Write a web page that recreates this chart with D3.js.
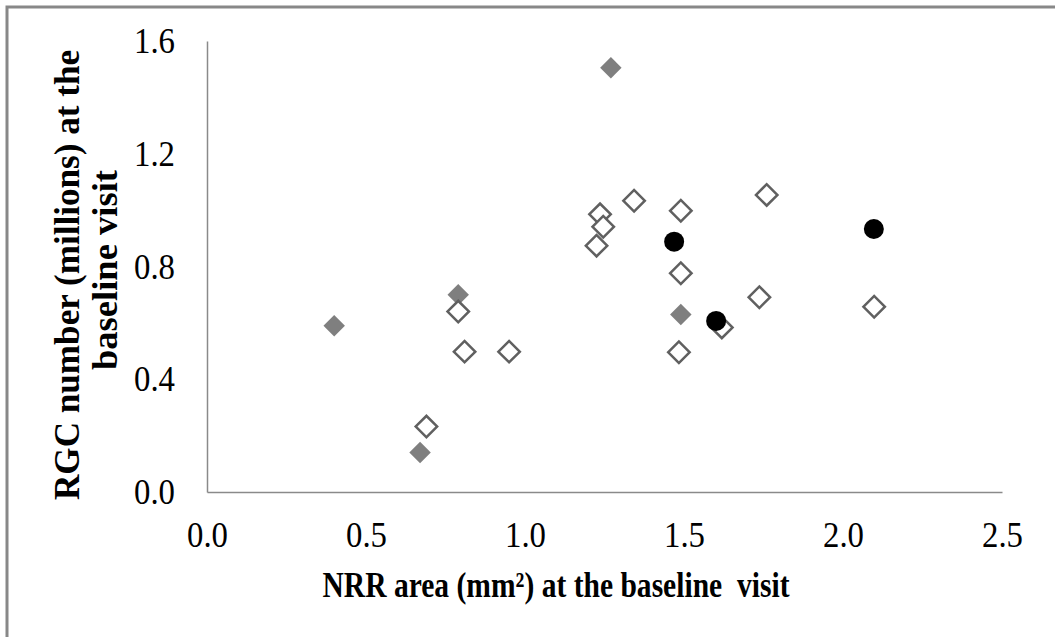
<!DOCTYPE html>
<html>
<head>
<meta charset="utf-8">
<script src="https://cdn.jsdelivr.net/npm/d3@7"></script>
<style>
  body { margin: 0; background: #fff; }
  svg { display: block; }
</style>
</head>
<body>
<svg></svg>
<script>
// filled grey diamonds
const filledX = [0.40, 0.79, 0.67, 1.27, 1.49];
const filledY = [0.59, 0.70, 0.14, 1.505, 0.63];

// open diamonds
const openX = [0.69, 0.79, 0.81, 0.95, 1.225, 1.236, 1.246, 1.343, 1.49, 1.49, 1.484, 1.619, 1.737, 1.76, 2.098];
const openY = [0.232, 0.64, 0.498, 0.498, 0.874, 0.985, 0.941, 1.033, 0.998, 0.776, 0.496, 0.584, 0.691, 1.054, 0.657];

// black circles
const dotX = [1.469, 1.601, 2.097];
const dotY = [0.888, 0.607, 0.933];

const xTicks = [0.0, 0.5, 1.0, 1.5, 2.0, 2.5];
const yTicks = [0.0, 0.4, 0.8, 1.2, 1.6];

const x_label = "NRR area (mm²) at the baseline  visit";
const y_label1 = "RGC number (millions) at the";
const y_label2 = "baseline visit";

function buildPlot(){
    const width = 1055, height = 637;
    const margin = { left: 207, right: 53, top: 41, bottom: 145 };

    const svg = d3.select("svg").attr("width", width).attr("height", height)
        .attr("viewBox", [0, 0, width, height]);

    // outer frame (runs off right and bottom edge like the source)
    svg.append("rect")
        .attr("x", 7).attr("y", 7)
        .attr("width", width + 50).attr("height", height + 50)
        .attr("fill", "#fff")
        .attr("stroke", "#888").attr("stroke-width", 3);

    const x_scale = d3.scaleLinear().domain([0, 2.5]).range([margin.left, width - margin.right]);
    const y_scale = d3.scaleLinear().domain([0, 1.6]).range([height - margin.bottom, margin.top]);

    const x_axis = d3.axisBottom(x_scale)
        .tickValues(xTicks)
        .tickFormat(d3.format(".1f"))
        .tickSize(0).tickSizeOuter(0)
        .tickPadding(29);

    const y_axis = d3.axisLeft(y_scale)
        .tickValues(yTicks)
        .tickFormat(d3.format(".1f"))
        .tickSize(0).tickSizeOuter(0)
        .tickPadding(32);

    const gx = svg.append("g")
        .attr("transform", `translate(0,${height - margin.bottom})`)
        .call(x_axis);

    const gy = svg.append("g")
        .attr("transform", `translate(${margin.left},0)`)
        .call(y_axis);

    [gx, gy].forEach(g => {
        g.select(".domain").attr("stroke", "#8a8a8a").attr("stroke-width", 1.5);
        g.selectAll("text")
            .attr("fill", "#000")
            .style("font-family", "'Liberation Serif', 'Times New Roman', serif")
            .style("font-size", "36px")
            .attr("textLength", 41)
            .attr("lengthAdjust", "spacingAndGlyphs");
    });

    const square = d3.symbol(d3.symbolSquare, 230);
    const circle = d3.symbol(d3.symbolCircle, Math.PI * 10 * 10);

    // filled diamonds
    svg.append("g").selectAll("path")
        .data(d3.zip(filledX, filledY))
        .join("path")
        .attr("d", square)
        .attr("transform", d => `translate(${x_scale(d[0])},${y_scale(d[1])}) rotate(45)`)
        .attr("fill", "#7f7f7f");

    // open diamonds
    svg.append("g").selectAll("path")
        .data(d3.zip(openX, openY))
        .join("path")
        .attr("d", square)
        .attr("transform", d => `translate(${x_scale(d[0])},${y_scale(d[1])}) rotate(45)`)
        .attr("fill", "#fff")
        .attr("stroke", "#606060")
        .attr("stroke-width", 2.5);

    // black dots
    svg.append("g").selectAll("path")
        .data(d3.zip(dotX, dotY))
        .join("path")
        .attr("d", circle)
        .attr("transform", d => `translate(${x_scale(d[0])},${y_scale(d[1])})`)
        .attr("fill", "#000");

    const titleFont = "'Liberation Serif', 'Times New Roman', serif";

    // x label (keeps the double space before "visit")
    svg.append("text")
        .attr("x", 556).attr("y", 597)
        .attr("text-anchor", "middle")
        .attr("textLength", 467).attr("lengthAdjust", "spacingAndGlyphs")
        .style("white-space", "pre")
        .style("font-family", titleFont)
        .style("font-size", "36px").style("font-weight", "bold")
        .text(x_label);

    // y label, two lines
    svg.append("text")
        .attr("transform", "translate(79,275) rotate(-90)")
        .attr("text-anchor", "middle")
        .attr("textLength", 450).attr("lengthAdjust", "spacingAndGlyphs")
        .style("font-family", titleFont)
        .style("font-size", "36px").style("font-weight", "bold")
        .text(y_label1);

    svg.append("text")
        .attr("transform", "translate(117,270) rotate(-90)")
        .attr("text-anchor", "middle")
        .attr("textLength", 200).attr("lengthAdjust", "spacingAndGlyphs")
        .style("font-family", titleFont)
        .style("font-size", "36px").style("font-weight", "bold")
        .text(y_label2);
}
buildPlot();
</script>
</body>
</html>
